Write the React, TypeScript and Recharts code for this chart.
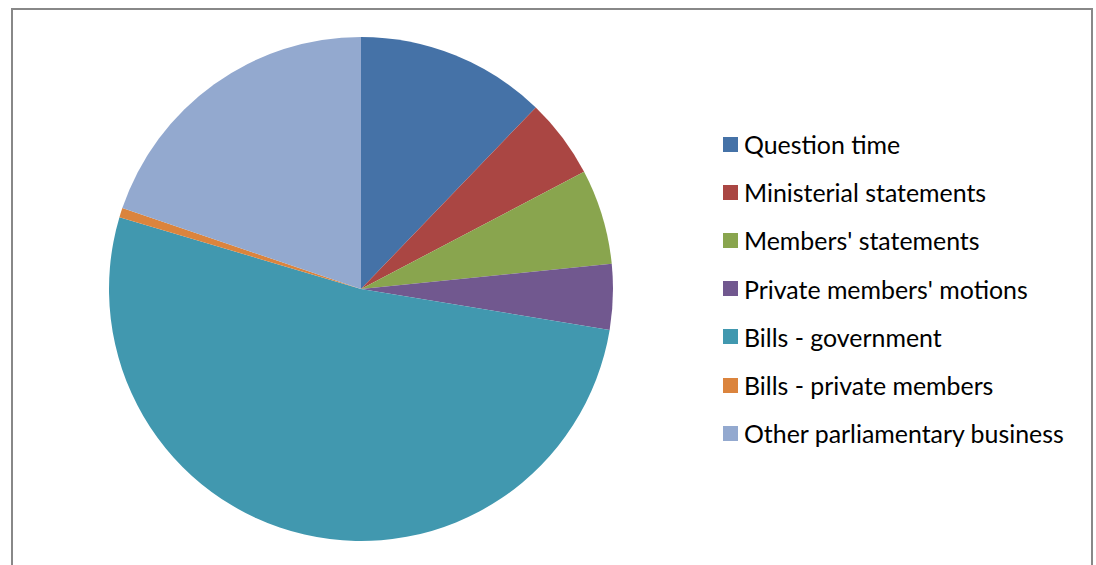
import React from "react";
import { PieChart, Pie, Cell, Legend } from "recharts";

const categories = [
  "Question time",
  "Ministerial statements",
  "Members' statements",
  "Private members' motions",
  "Bills - government",
  "Bills - private members",
  "Other parliamentary business",
];
const shares = [12.2, 5.1, 6.1, 4.2, 52.0, 0.6, 19.8];
const colors = ["#4572A7", "#AA4643", "#89A54E", "#71588F", "#4198AF", "#DB843D", "#93A9CF"];

const data = categories.map((name, i) => ({ name, value: shares[i] }));

const FONT = "Lato, 'Open Sans', sans-serif";

const renderLegend = () => (
  <div style={{ fontFamily: FONT }}>
    {categories.map((name, i) => (
      <div
        key={name}
        style={{ display: "flex", alignItems: "center", height: 48.2, whiteSpace: "nowrap" }}
      >
        <div style={{ width: 15, height: 15, background: colors[i], marginRight: 6, flexShrink: 0 }} />
        <span style={{ fontSize: 24.9, color: "#000", lineHeight: "28px" }}>{name}</span>
      </div>
    ))}
  </div>
);

export default function App() {
  return (
    <div
      style={{
        position: "absolute",
        left: 0,
        top: 0,
        width: 1096,
        height: 565,
        overflow: "hidden",
        background: "#fff",
      }}
    >
      <div
        style={{
          position: "absolute",
          left: 11,
          top: 8,
          width: 1082,
          height: 620,
          border: "2px solid #888",
          boxSizing: "border-box",
        }}
      />
      <div style={{ position: "absolute", left: 0, top: 0 }}>
        <PieChart width={1096} height={565} margin={{ top: 0, right: 0, bottom: 0, left: 0 }}>
          <Pie
            data={data}
            dataKey="value"
            nameKey="name"
            cx={361}
            cy={289}
            outerRadius={252}
            startAngle={90}
            endAngle={-270}
            stroke="none"
            isAnimationActive={false}
          >
            {data.map((d, i) => (
              <Cell key={d.name} fill={colors[i]} />
            ))}
          </Pie>
          <Legend
            layout="vertical"
            content={renderLegend}
            wrapperStyle={{ position: "absolute", left: 723, top: 120, width: 370 }}
          />
        </PieChart>
      </div>
    </div>
  );
}
